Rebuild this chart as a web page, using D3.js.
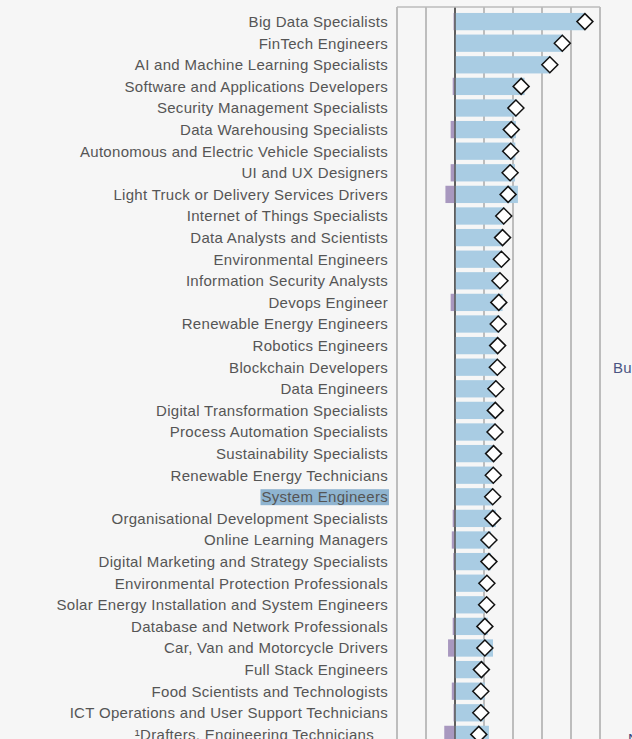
<!DOCTYPE html>
<html>
<head>
<meta charset="utf-8">
<script src="https://cdn.jsdelivr.net/npm/d3@7"></script>
<style>
  html, body { margin: 0; padding: 0; background: #f6f6f6; overflow: hidden; }
  svg { display: block; }
  .lbl { font-family: "Liberation Sans", Arial, sans-serif; font-size: 15px; letter-spacing: 0.3px; fill: #555; }
</style>
</head>
<body>
<div id="chart"></div>
<script>
// job titles, top to bottom
var jobs = [
  "Big Data Specialists", "FinTech Engineers", "AI and Machine Learning Specialists",
  "Software and Applications Developers", "Security Management Specialists",
  "Data Warehousing Specialists", "Autonomous and Electric Vehicle Specialists",
  "UI and UX Designers", "Light Truck or Delivery Services Drivers",
  "Internet of Things Specialists", "Data Analysts and Scientists", "Environmental Engineers",
  "Information Security Analysts", "Devops Engineer", "Renewable Energy Engineers",
  "Robotics Engineers", "Blockchain Developers", "Data Engineers",
  "Digital Transformation Specialists", "Process Automation Specialists",
  "Sustainability Specialists", "Renewable Energy Technicians", "System Engineers",
  "Organisational Development Specialists", "Online Learning Managers",
  "Digital Marketing and Strategy Specialists", "Environmental Protection Professionals",
  "Solar Energy Installation and System Engineers", "Database and Network Professionals",
  "Car, Van and Motorcycle Drivers", "Full Stack Engineers", "Food Scientists and Technologists",
  "ICT Operations and User Support Technicians", "\u00b9Drafters, Engineering Technicians"
];
// growth (positive part)
var growth = [4.46, 3.72, 3.28, 2.40, 2.14, 2.10, 2.08, 2.07, 2.17, 1.70, 1.64, 1.61, 1.55, 1.64,
  1.55, 1.49, 1.46, 1.41, 1.39, 1.39, 1.32, 1.32, 1.30, 1.41, 1.24, 1.24, 1.03, 1.01, 1.13, 1.31,
  0.96, 1.03, 1.00, 1.17];
// decline (negative part)
var decline = [-0.05, 0, 0, -0.08, 0, -0.15, 0, -0.15, -0.33, 0, 0, 0, 0, -0.15, 0, -0.03, -0.03,
  -0.03, -0.03, -0.03, 0, 0, -0.03, -0.08, -0.11, -0.06, 0, -0.03, -0.08, -0.24, -0.03, -0.11,
  -0.05, -0.37];
// net change (diamond)
var net = [4.48, 3.70, 3.27, 2.28, 2.10, 1.94, 1.92, 1.90, 1.83, 1.68, 1.64, 1.60, 1.55, 1.51,
  1.49, 1.47, 1.46, 1.41, 1.39, 1.38, 1.33, 1.32, 1.30, 1.30, 1.17, 1.17, 1.10, 1.09, 1.03, 1.03,
  0.91, 0.89, 0.89, 0.82];
var ticks = [-2, -1, 0, 1, 2, 3, 4, 5];

var W = 632, H = 739;
var svg = d3.select("#chart").append("svg").attr("width", W).attr("height", H);

var x = d3.scaleLinear().domain([-2, 5]).range([397, 600]);
var y = d3.scaleBand().domain(jobs).range([10.8, 745.2]).paddingInner(0.2).paddingOuter(0.1);

// grid
svg.append("g").selectAll("line").data(ticks).enter().append("line")
  .attr("x1", function(d){ return x(d); }).attr("x2", function(d){ return x(d); })
  .attr("y1", 7).attr("y2", H)
  .attr("stroke", function(d){ return d === 0 ? "#2b2b2b" : "#aaa"; })
  .attr("stroke-width", 1.5);
svg.append("line").attr("x1", x(-2)).attr("x2", x(5)).attr("y1", 7).attr("y2", 7)
  .attr("stroke", "#bbb").attr("stroke-width", 1.5);

// growth bars
svg.append("g").selectAll("rect").data(jobs).enter().append("rect")
  .attr("x", x(0) + 0.8)
  .attr("y", function(d){ return y(d); })
  .attr("width", function(d, i){ return x(growth[i]) - x(0) - 0.8; })
  .attr("height", y.bandwidth())
  .attr("fill", "#a9cce3");

// decline bars
svg.append("g").selectAll("rect").data(jobs).enter().append("rect")
  .attr("x", function(d, i){ return x(decline[i]); })
  .attr("y", function(d){ return y(d); })
  .attr("width", function(d, i){ return x(0) - x(decline[i]) - 0.8; })
  .attr("height", y.bandwidth())
  .attr("fill", "#a898bf");

// net diamonds
var s = 8;
svg.append("g").selectAll("path").data(jobs).enter().append("path")
  .attr("transform", function(d, i){ return "translate(" + x(net[i]) + "," + (y(d) + y.bandwidth() / 2) + ")"; })
  .attr("d", "M0," + (-s) + "L" + s + ",0L0," + s + "L" + (-s) + ",0Z")
  .attr("fill", "#fff").attr("stroke", "#111").attr("stroke-width", 1.5);

// labels
var lab = svg.append("g");
jobs.forEach(function(d, i){
  var cy = y(d) + y.bandwidth() / 2;
  var t = lab.append("text").attr("class", "lbl")
    .attr("x", i === jobs.length - 1 ? 374 : 388).attr("y", cy)
    .attr("dy", "0.36em").attr("text-anchor", "end").text(d);
  if (d === "System Engineers") {
    var b = t.node().getBBox();
    lab.insert("rect", "text").attr("x", b.x - 1).attr("y", b.y + 1).attr("width", b.width + 2)
      .attr("height", b.height - 1).attr("fill", "#8fb4d0");
  }
});

// bits of neighbouring text
svg.append("text").attr("x", 613).attr("y", 373).attr("class", "lbl")
  .style("fill", "#4a5583").text("Building");
svg.append("text").attr("x", 628).attr("y", 744).attr("class", "lbl")
  .style("fill", "#3d4a80").text("N");
</script>
</body>
</html>
